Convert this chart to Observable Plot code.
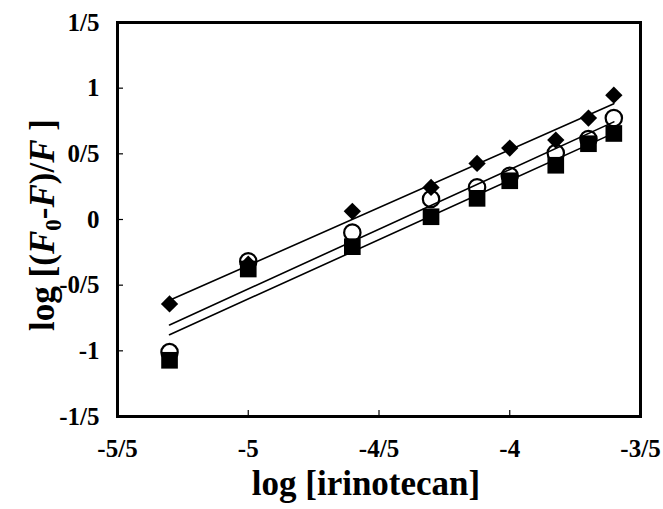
<!DOCTYPE html>
<html><head><meta charset="utf-8">
<script src="https://cdn.jsdelivr.net/npm/d3@7"></script>
<script src="https://cdn.jsdelivr.net/npm/@observablehq/plot@0.6"></script>
<style>
html,body{margin:0;padding:0;background:#fff}
svg{display:block}
svg text{font-weight:bold !important;font-family:'Liberation Serif','Times New Roman',serif !important;fill:#000 !important}
</style>
</head><body><div id="chart"></div>
<script>
// ---- data ----
const logConc = [-5.301, -5.0, -4.602, -4.301, -4.125, -4.0, -3.824, -3.699, -3.602];
const seriesDiamond = [-0.643, -0.34, 0.062, 0.244, 0.427, 0.544, 0.605, 0.772, 0.947];
const seriesCircle  = [-1.01, -0.319, -0.10, 0.156, 0.245, 0.333, 0.506, 0.613, 0.772];
const seriesSquare  = [-1.072, -0.377, -0.207, 0.021, 0.161, 0.295, 0.413, 0.577, 0.655];
const xTickValues = [-5.5, -5, -4.5, -4, -3.5];
const xTickLabels = ["-5/5", "-5", "-4/5", "-4", "-3/5"];
const yTickValues = [-1.5, -1, -0.5, 0, 0.5, 1, 1.5];
const yTickLabels = ["-1/5", "-1", "-0/5", "0", "0/5", "1", "1/5"];
const xTitle = "log [irinotecan]";

// ---- layout ----
const W = 663, H = 509;
const mL = 117, mR = 23, mT = 22, mB = 93;
const font = "'Liberation Serif', 'Times New Roman', serif";

const mk = (ys, s) => logConc.map((x, i) => ({x, y: ys[i], series: s}));
const dDiamond = mk(seriesDiamond, "diamond");
const dCircle = mk(seriesCircle, "circle");
const dSquare = mk(seriesSquare, "square");
const all = [...dDiamond, ...dCircle, ...dSquare];

const xInner = xTickValues.slice(1, -1);
const yInner = yTickValues.slice(1, -1);
const frameH = H - mT - mB, frameW = W - mL - mR;

const chart = Plot.plot({
  width: W, height: H,
  marginLeft: mL, marginRight: mR, marginTop: mT, marginBottom: mB,
  style: {fontFamily: font, color: "black", background: "white"},
  x: {domain: [-5.5, -3.5], axis: null},
  y: {domain: [-1.5, 1.5], axis: null},
  marks: [
    Plot.linearRegressionY(all, {x: "x", y: "y", z: "series", stroke: "black", strokeWidth: 1.6, ci: 0}),
    Plot.dot(dDiamond, {x: "x", y: "y", symbol: "diamond2", fill: "black", r: 7.8}),
    Plot.dot(dCircle, {x: "x", y: "y", symbol: "circle", fill: "none", stroke: "black", strokeWidth: 2.2, r: 8.2}),
    Plot.dot(dSquare, {x: "x", y: "y", symbol: "square", fill: "black", r: 9.4}),
    Plot.tickX(xInner, {x: d => d, stroke: "black", strokeWidth: 1.2, insetTop: frameH - 6}),
    Plot.tickY(yInner, {y: d => d, stroke: "black", strokeWidth: 1.2, insetRight: frameW - 6}),
    Plot.text(xTickValues, {x: d => d, frameAnchor: "bottom", dy: 32, text: (d, i) => xTickLabels[i],
      fontSize: 25, fontWeight: "bold", fill: "black", lineAnchor: "middle"}),
    Plot.text(yTickValues, {y: d => d, frameAnchor: "left", dx: -18, textAnchor: "end", text: (d, i) => yTickLabels[i],
      fontSize: 25, fontWeight: "bold", fill: "black", lineAnchor: "middle"}),
    Plot.frame({stroke: "black", strokeWidth: 3})
  ]
});

const svg = d3.select(chart);
svg.append("text")
  .attr("x", 366).attr("y", 495)
  .attr("text-anchor", "middle")
  .style("font-size", "35px")
  .text(xTitle);

const yt = svg.append("text")
  .attr("transform", `translate(54, 225) rotate(-90)`)
  .attr("text-anchor", "middle")
  .style("font-size", "35px");
yt.append("tspan").text("log [(");
yt.append("tspan").style("font-style", "italic").text("F");
yt.append("tspan").attr("dy", 7).style("font-size", "23px").text("0");
yt.append("tspan").attr("dy", -7).text("-");
yt.append("tspan").style("font-style", "italic").text("F");
yt.append("tspan").text(")/");
yt.append("tspan").style("font-style", "italic").text("F");
yt.append("tspan").text(" ]");

document.getElementById("chart").appendChild(chart);
</script>
</body></html>
